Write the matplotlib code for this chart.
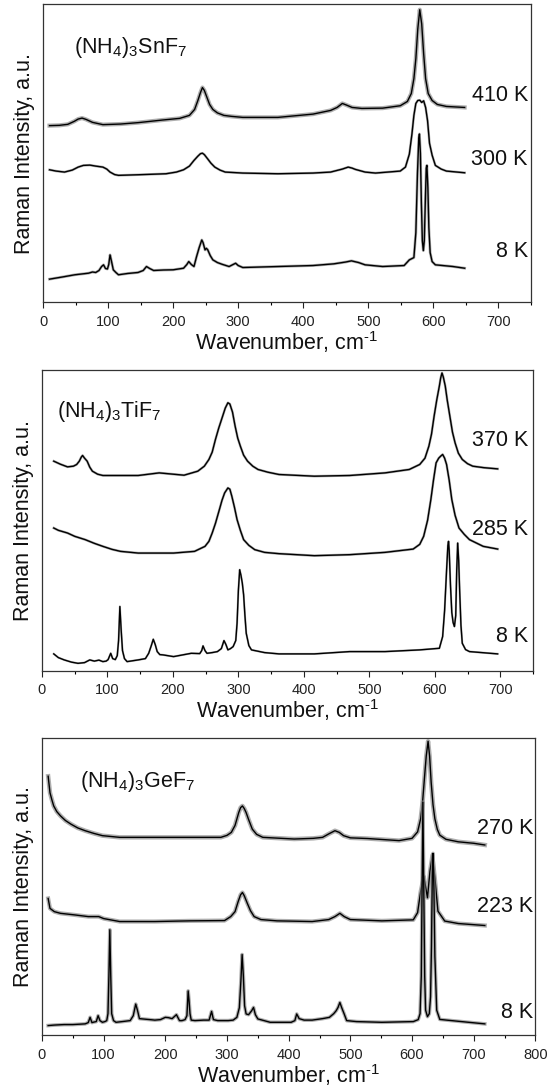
import matplotlib
matplotlib.use("Agg")
import matplotlib.pyplot as plt
from matplotlib.ticker import MultipleLocator

plt.rcParams['font.family'] = ['Liberation Sans', 'DejaVu Sans']
plt.rcParams['mathtext.fontset'] = 'custom'
plt.rcParams['mathtext.rm'] = 'Liberation Sans'
plt.rcParams['mathtext.it'] = 'Liberation Sans:italic'
plt.rcParams['mathtext.bf'] = 'Liberation Sans:bold'

# ---- (NH4)3SnF7 ----
sn_410_x = [10, 25, 38, 48, 54, 60, 66, 76, 92, 119, 146, 183, 210, 225, 233, 238, 242, 245, 248, 252,
            256, 261, 268, 278, 290, 307, 361, 415, 442, 452, 460, 466, 475, 490, 522, 549, 560, 566,
            570, 573, 576, 579, 582, 585, 588, 592, 598, 606, 620, 648]
sn_410_y = [177.7, 178, 179, 182, 184.3, 185.3, 184, 181, 178.7, 179.3, 180.7, 183.3, 185, 188, 194, 203,
            211, 216, 213, 206, 199, 194, 190.5, 188, 187, 186, 186, 189.3, 193, 196, 200, 198.5, 196,
            195, 195.3, 197.7, 202, 210, 225, 245, 275, 294.3, 280, 250, 225, 210, 203, 199, 197, 196]

sn_300_x = [10, 20, 33, 45, 54, 62, 72, 81, 92, 98, 103, 110, 116, 146, 189, 205, 216, 225, 232, 238,
            242, 245, 248, 253, 258, 264, 272, 280, 307, 361, 415, 442, 460, 469, 475, 480, 495, 511,
            549, 557, 563, 567, 570, 573, 576, 579, 582, 585, 588, 591, 594, 598, 603, 612, 620, 648]
sn_300_y = [133.3, 132, 131, 133, 136, 137.7, 138, 137, 136, 134, 131, 128.5, 127.7, 128.3, 129.3, 131,
            133.3, 137, 142.7, 147, 149.5, 150, 148.5, 144.3, 140, 136, 133, 131, 130, 129.3, 130, 131,
            134, 136, 135, 133.7, 131, 130, 132, 136, 149, 169.3, 188, 200, 203, 203.3, 201, 202.7,
            196, 182.7, 160, 148, 137.7, 134, 132, 130.3]

sn_8_x = [10, 30, 49, 70, 76, 81, 86, 90, 93, 96, 99, 101, 103, 105, 108, 112, 116, 130, 146, 154, 159,
          164, 170, 185, 200, 216, 221, 224, 228, 232, 236, 240, 244, 246, 249, 251, 253, 257, 261, 268,
          275, 286, 292, 296, 300, 307, 361, 415, 447, 465, 474, 485, 495, 522, 555, 563, 570, 573,
          575.5, 577.5, 578.5, 580, 581.5, 583, 584.5, 586, 587.5, 589, 590, 591.5, 593, 595, 598,
          603, 630, 648]
sn_8_y = [23.3, 25.5, 27.7, 29.3, 30.5, 30, 32, 36, 37.7, 34, 33.5, 38, 47.7, 42, 32.7, 30, 27.7, 29, 30,
          32, 36, 34, 32, 32.5, 32.7, 34.3, 38, 41, 38, 36, 46, 55, 62.7, 60, 52.7, 54.3, 53, 47, 42.7,
          40, 38.3, 36, 38, 39.3, 37, 35, 36, 37, 38.7, 40.5, 41.7, 40, 37.7, 36, 37, 42.7, 45, 70,
          130, 165, 169.3, 150, 100, 62, 52, 62, 100, 135, 137.7, 115, 75, 50, 41, 37.7, 36, 34.3]

# ---- (NH4)3TiF7 ----
ti_370_x = [18, 28, 39, 48, 53, 57, 60, 62, 65, 69, 73, 77, 85, 93, 120, 147, 179, 217, 238, 248, 255,
            260, 265, 270, 276, 280, 284, 287, 291, 295, 299, 303, 308, 314, 322, 330, 345, 362, 416,
            470, 524, 561, 577, 585, 591, 595, 599, 603, 607, 609, 611, 613, 616, 619, 623, 627, 631,
            636, 642, 650, 658, 675, 696]
ti_370_y = [209, 206, 203.3, 204, 205.7, 209, 213, 214.7, 212, 209, 203, 199, 196, 194.7, 194.7, 194.7,
            197.3, 195, 199, 204, 210.7, 218, 230.7, 242, 254, 262, 267.3, 266, 258, 244, 232, 224, 215,
            209, 204, 200.7, 198, 195.7, 194, 194.7, 197.3, 200.7, 205.7, 212, 224, 236, 254, 270, 284,
            292, 297, 293, 284, 270, 254, 238, 227.3, 217, 210.7, 206.5, 204, 202.5, 201.3]

ti_285_x = [18, 25, 39, 50, 66, 80, 93, 107, 120, 147, 201, 233, 249, 255, 260, 265, 271, 275, 279, 284,
            287, 290, 294, 298, 303, 308, 316, 325, 340, 362, 416, 470, 524, 567, 577, 583, 589, 594,
            598, 602, 606, 609, 612, 615, 618, 622, 626, 631, 637, 645, 653, 674, 696]
ti_285_y = [142.3, 140, 137.3, 134, 130.7, 127, 124, 121, 119, 117.3, 117.3, 119, 124, 129, 137.3, 147,
            160.7, 170, 177.3, 182.3, 181, 174, 163, 150.7, 140, 130.7, 125, 120.7, 118, 116.7, 114.7,
            115.7, 118, 121.3, 126, 134, 150, 170.7, 190, 207.3, 212, 214, 215.7, 212, 205.7, 190, 170.7,
            155, 142.3, 136, 130.7, 124, 121.3]

ti_8_x = [18, 25, 34, 45, 55, 65, 73, 80, 87, 93, 98, 101, 105, 108, 112, 115, 117, 119, 121, 123, 126,
          130, 147, 158, 163, 167, 170, 173, 176, 180, 185, 201, 228, 241, 244, 246, 249, 252, 260, 268,
          274, 278, 281, 284, 288, 292, 296, 298, 300, 302, 304, 306, 308, 310, 312, 316, 320, 340, 362,
          416, 470, 524, 577, 607, 612, 615, 618, 620, 621, 622, 624, 626, 628, 630, 632, 633.5, 635,
          636.5, 638, 640, 642, 647, 653, 696]
ti_8_y = [16.7, 13, 10.7, 8.5, 7.3, 8, 10.7, 9.5, 10.5, 9, 9.5, 11, 17.3, 12, 11, 15, 30, 64, 40, 20, 12,
          9, 10.7, 12, 17.3, 25, 31.3, 26, 19, 16, 15.7, 14, 17.3, 17, 20, 24.7, 20, 17.3, 18, 19, 22, 30,
          26, 20.7, 22, 24, 30, 47.3, 80, 100.7, 95, 87.3, 75.7, 55, 37.3, 25, 20.7, 18, 16.7, 16.7, 19,
          19, 20.7, 22.3, 34, 60, 100, 125, 129, 120, 85, 58, 48, 44, 55, 100, 127.3, 110, 80, 45, 27.3,
          21, 19, 16.7]

# ---- (NH4)3GeF7 ----
ge_270_x = [10, 13, 16, 19, 24, 30, 38, 47, 58, 70, 84, 98, 126, 183, 240, 290, 300, 307, 313, 319, 322,
            325, 328, 331, 335, 341, 348, 358, 409, 440, 455, 465, 475, 482, 489, 500, 528, 579, 600,
            609, 614, 617, 620, 623, 626, 628.5, 631, 634, 637, 641, 645, 655, 675, 700, 718]
ge_270_y = [261.7, 245, 238, 231.7, 226, 221.7, 217, 213.3, 209.5, 206.7, 204, 201.7, 200, 200, 200, 200,
            202, 205, 212, 225, 230, 231.7, 229, 225, 218, 208.3, 203, 200, 198.3, 199, 200, 203.5, 206.7,
            205, 201.7, 199.5, 198.8, 196.7, 199, 205.5, 218.8, 235, 258.8, 282, 297, 282, 255.5, 233,
            218.8, 208, 202.2, 198, 195.5, 194, 192.3]

ge_223_x = [10, 13, 20, 30, 53, 75, 92, 100, 126, 183, 240, 296, 306, 313, 318, 322, 325, 328, 333, 338,
            344, 355, 381, 438, 465, 475, 483, 490, 500, 551, 602, 609, 614, 619, 622, 625, 629, 633,
            637, 642, 653, 675, 718]
ge_223_y = [138.3, 128.3, 125, 123.3, 121.7, 120, 120, 118, 115, 115, 115.7, 116, 120, 125, 135, 142,
            144.3, 141, 133.3, 126, 120, 117, 115.7, 115, 117, 120, 123.3, 120, 117, 115.7, 116.7, 124,
            145.5, 160.5, 150, 139, 165.5, 182, 159, 125.5, 115.5, 113, 111]

ge_8_x = [10, 20, 36, 50, 70, 75, 78, 81, 84, 88, 91, 94, 98, 102, 105, 107, 108.5, 110, 111.5, 113, 116,
          120, 130, 143, 148, 152, 155, 158, 163, 175, 183, 192, 200, 205, 211, 218, 223, 227, 232, 235,
          237, 238.5, 240, 242, 248, 262, 271, 275, 278, 285, 302, 310, 316, 320, 322.5, 324.5, 326.5,
          328.5, 331, 335, 340, 343, 346, 350, 370, 404, 410, 413, 417, 425, 438, 455, 466, 473, 477,
          480, 483, 486, 490, 494, 510, 551, 602, 610, 613, 615, 616.3, 617.6, 619, 620.5, 622, 625,
          628, 630, 631.5, 632.8, 634, 635.4, 637, 640, 645, 664, 718]
ge_8_y = [10, 10.5, 11, 11, 11.7, 13, 18.3, 13, 13.5, 14, 20, 15, 13.3, 14, 15, 22, 60, 106.7, 60, 22, 15,
          13.3, 14, 15, 20, 31.7, 25, 17, 16.7, 16, 15.5, 16, 18.3, 18, 17, 21, 15, 15, 16, 20, 45, 35,
          22, 15.5, 15, 15.5, 15.5, 24.3, 16, 15, 15, 15.5, 18.3, 28, 55, 81.7, 60, 30, 21.7, 21, 25,
          28.3, 21, 16.7, 13.3, 13.3, 15, 21.7, 17, 15.5, 15.5, 17, 18.3, 22, 25, 28.3, 33.3, 28, 21.7,
          15, 14, 13.3, 14, 16, 22, 60, 150, 235.5, 150, 60, 25.5, 19, 22, 39, 90, 160, 183.8, 150, 80,
          25.5, 16.2, 15, 11.7]

compounds = [r'(NH$_4$)$_3$SnF$_7$', r'(NH$_4$)$_3$TiF$_7$', r'(NH$_4$)$_3$GeF$_7$']
temps = [['410 K', '300 K', '8 K'], ['370 K', '285 K', '8 K'], ['270 K', '223 K', '8 K']]
xmax = [750, 750, 800]

panels = [
    [(sn_410_x, sn_410_y), (sn_300_x, sn_300_y), (sn_8_x, sn_8_y)],
    [(ti_370_x, ti_370_y), (ti_285_x, ti_285_y), (ti_8_x, ti_8_y)],
    [(ge_270_x, ge_270_y), (ge_223_x, ge_223_y), (ge_8_x, ge_8_y)],
]

# layout (figure fractions) and label placement
ax_rects = [[0.0785, 0.7229, 0.8905, 0.2734],
            [0.0766, 0.3853, 0.8960, 0.2756],
            [0.0766, 0.0509, 0.9004, 0.2724]]
temp_pos = [[208.3, 143.3, 51], [230, 141.3, 34], [209, 130, 23.3]]
temp_x = [745, 743, 796]
comp_pos = [(48, 251), (23, 253), (61, 250.5)]
noise_w = [[3.0, 1.8, 2.0], [1.8, 1.8, 1.5], [3.2, 3.0, 2.6]]

fig = plt.figure(figsize=(5.48, 10.91), dpi=100)

for i in range(3):
    ax = fig.add_axes(ax_rects[i])
    for j, (xs, ys) in enumerate(panels[i]):
        ax.plot(xs, ys, color='#8c8c8c', lw=noise_w[i][j], alpha=0.7, solid_joinstyle='round')
        ax.plot(xs, ys, color='black', lw=1.0)
        ax.text(temp_x[i], temp_pos[i][j], temps[i][j], ha='right', va='center',
                fontsize=15.5, color='#111111')
    ax.text(comp_pos[i][0], comp_pos[i][1], compounds[i], ha='left', va='baseline',
            fontsize=15.5, color='#111111')

    ax.set_xlim(0, xmax[i])
    ax.set_ylim(0, 300)
    ax.set_yticks([])
    ax.xaxis.set_major_locator(MultipleLocator(100))
    ax.xaxis.set_minor_locator(MultipleLocator(50))
    ax.tick_params(axis='x', which='major', direction='out', length=4.5, width=0.8,
                   labelsize=10.5, pad=4.5, colors='#222222')
    ax.tick_params(axis='x', which='minor', direction='out', length=2.5, width=0.8)
    ax.tick_params(axis='x', top=False)
    for s in ax.spines.values():
        s.set_linewidth(0.9)
        s.set_color('#333333')
    ax.set_xlabel(r'Wavenumber, cm$^{\text{-1}}$', fontsize=15.5, labelpad=0, color='#111111')
    ax.set_ylabel('Raman Intensity, a.u.', fontsize=15.5, labelpad=6, color='#111111')

fig.savefig('out.png', dpi=100)
